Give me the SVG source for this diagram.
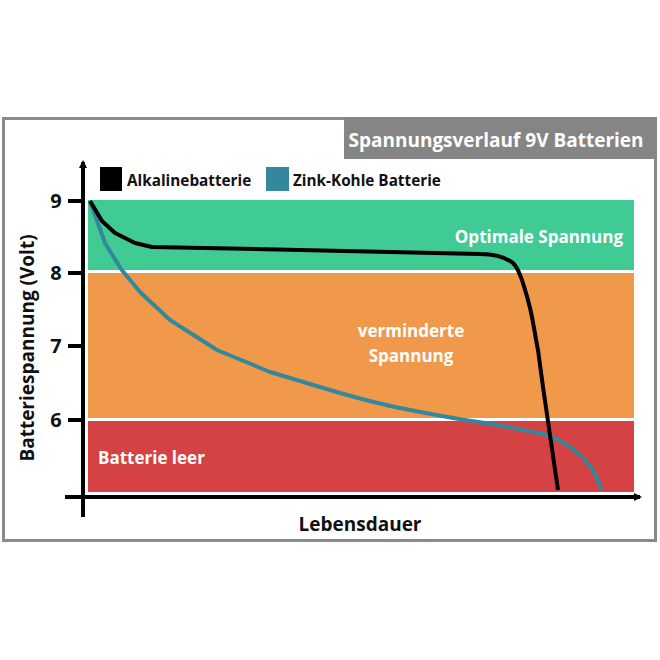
<svg xmlns="http://www.w3.org/2000/svg" width="660" height="660" viewBox="0 0 660 660">
<defs>
<style>
text{font-family:"Open Sans","Noto Sans","DejaVu Sans",sans-serif;font-weight:bold}
.ax{stroke:#000;stroke-width:4;fill:none}
.band-label{fill:#fff;font-size:17px}
.tick{font-size:20px;fill:#111}
</style>
<marker id="ah" markerWidth="8" markerHeight="8" refX="6" refY="4" orient="auto" markerUnits="userSpaceOnUse">
<path d="M0,0 L8,4 L0,8 Z" fill="#000"/>
</marker>
</defs>
<rect width="660" height="660" fill="#fff"/>
<g id="frame">
<rect x="3.5" y="118.5" width="652" height="422" fill="#fff" stroke="#8a8a8a" stroke-width="3"/>
<rect x="344" y="118" width="313" height="41" fill="#858585"/>
<text x="496" y="147" text-anchor="middle" fill="#fff" font-size="19">Spannungsverlauf 9V Batterien</text>
</g>
<g id="bands">
<g id="band-optimal"><rect x="88" y="200" width="546" height="70" fill="#3fcb93"/>
<text class="band-label" x="623" y="243" text-anchor="end">Optimale Spannung</text></g>
<g id="band-reduced"><rect x="88" y="273" width="546" height="145" fill="#f0994b"/>
<text class="band-label" x="411" y="337" text-anchor="middle">verminderte</text>
<text class="band-label" x="411" y="362" text-anchor="middle">Spannung</text></g>
<g id="band-empty"><rect x="88" y="421" width="546" height="71" fill="#d44243"/>
<text class="band-label" x="98" y="464">Batterie leer</text></g>
</g>
<g id="axes">
<path class="ax" d="M83,517 V162" marker-end="url(#ah)"/>
<path class="ax" d="M65,497 H640" marker-end="url(#ah)"/>
<path class="ax" d="M68,201 H83 M68,273 H83 M68,346 H83 M68,420 H83" stroke-width="3"/>
<text class="tick" x="56" y="208" text-anchor="middle">9</text>
<text class="tick" x="56" y="280" text-anchor="middle">8</text>
<text class="tick" x="56" y="353" text-anchor="middle">7</text>
<text class="tick" x="56" y="427" text-anchor="middle">6</text>
<text x="360" y="531" text-anchor="middle" font-size="19" fill="#111">Lebensdauer</text>
<text transform="translate(34,348) rotate(-90)" text-anchor="middle" font-size="19" fill="#111">Batteriespannung (Volt)</text>
</g>
<g id="legend">
<g id="legend-alkaline"><rect x="100" y="167" width="22" height="24" fill="#000"/>
<text x="127" y="186" font-size="15.3" fill="#111">Alkalinebatterie</text></g>
<g id="legend-zink"><rect x="266" y="167" width="23" height="24" fill="#35889c"/>
<text x="293" y="186" font-size="15.3" fill="#111">Zink-Kohle Batterie</text></g>
</g>
<g id="connectors">
<path id="curve-zink" d="M90,201 L105,243 L121,269 L140,292 L170,320 L217,350 L270,372 C300,381 320,387 340,393 C365,400 380,404 400,408 C430,414 445,417 472,421 C500,425 520,429 547,435 C560,440 568,445 574,450 C584,458 590,465 594,472 C598,480 600,485 602,490" fill="none" stroke="#35889c" stroke-width="4" stroke-linejoin="round"/>
<path id="curve-alkaline" d="M90,201 L102,221 L115,233 L135,243 L152,247 L300,250 L480,254 C495,254 505,257 513,263 C518,268 520,275 522,280 C525,290 527,295 530,308 C533,320 535,335 538,350 L543,387 L558,490" fill="none" stroke="#000" stroke-width="4" stroke-linejoin="round"/>
</g>
</svg>
